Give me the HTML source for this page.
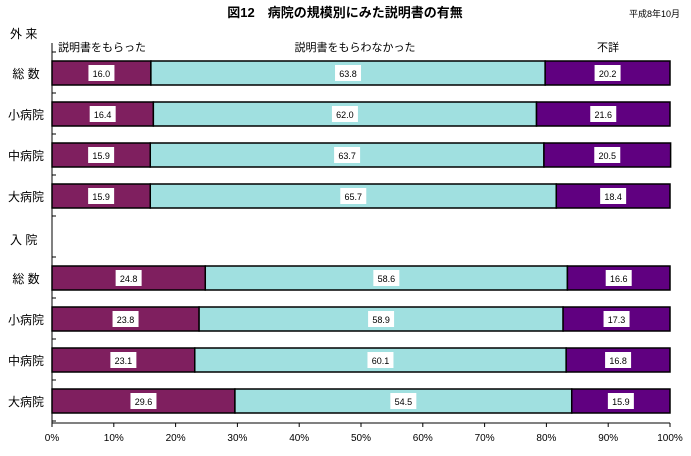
<!DOCTYPE html>
<html><head><meta charset="utf-8"><style>
body{margin:0;background:#fff;}
svg text{font-family:"Liberation Sans","Noto Sans CJK JP",sans-serif;}
</style></head><body>
<svg id="chart" width="691" height="451" viewBox="0 0 691 451" xmlns="http://www.w3.org/2000/svg">
<text x="345" y="17" font-size="13" font-weight="bold" text-anchor="middle">図12　病院の規模別にみた説明書の有無</text>
<text x="680" y="17" font-size="9" text-anchor="end">平成8年10月</text>
<text x="10" y="38" font-size="12">外 来</text>
<text x="10" y="244" font-size="12">入 院</text>
<text x="58" y="51" font-size="11">説明書をもらった</text>
<text x="355" y="51" font-size="11" text-anchor="middle">説明書をもらわなかった</text>
<text x="608" y="51" font-size="11" text-anchor="middle">不詳</text>
<g id="bars"></g>
<g id="axes"></g>
</svg>
<script>
const categories=["総 数","小病院","中病院","大病院","総 数","小病院","中病院","大病院"];
const rowIndex=[0,1,2,3,5,6,7,8];
const received=[16.0,16.4,15.9,15.9,24.8,23.8,23.1,29.6];
const notReceived=[63.8,62.0,63.7,65.7,58.6,58.9,60.1,54.5];
const unknown=[20.2,21.6,20.5,18.4,16.6,17.3,16.8,15.9];
const xTicks=[0,10,20,30,40,50,60,70,80,90,100];
const NS="http://www.w3.org/2000/svg";
const x0=52,x1=670;
const xs=v=>x0+(x1-x0)*v/100;
const ys=r=>61+41*r;
const bh=24;
const colors=["#7f1f5f","#a0e0e0","#600080"];
const segNames=["received","not-received","unknown"];
const bars=document.getElementById("bars"),axes=document.getElementById("axes");
function mk(tag,attrs,parent){const e=document.createElementNS(NS,tag);for(const k in attrs)e.setAttribute(k,attrs[k]);parent.appendChild(e);return e;}
categories.forEach((c,i)=>{
  const y=ys(rowIndex[i]);
  const lab=mk("text",{x:26,y:y+bh/2+5,"font-size":12,"text-anchor":"middle"},bars);
  
  
  lab.textContent=c;
  const vals=[received[i],notReceived[i],unknown[i]];
  let acc=0;
  vals.forEach((v,j)=>{
    const xa=xs(acc),xb=xs(acc+v);
    const r=mk("rect",{x:xa,y:y,width:xb-xa,height:bh,fill:colors[j],stroke:"#000","stroke-width":1.5},bars);
    
    
    const cx=(xa+xb)/2;
    const b=mk("rect",{x:cx-13,y:y+4,width:26,height:16,fill:"#fff"},bars);
    
    
    const t=mk("text",{x:cx,y:y+16,"font-size":9,"text-anchor":"middle"},bars);
    
    
    t.textContent=v.toFixed(1);
    acc+=v;
  });
});
const ya=mk("line",{x1:x0,y1:43,x2:x0,y2:423,stroke:"#000","stroke-width":1},axes);


for(let k=0;k<10;k++){
  const ty=52+41*k;
  const tk=mk("line",{x1:x0,y1:ty,x2:x0+4,y2:ty,stroke:"#000"},axes);
  
  
}
const xa=mk("line",{x1:x0,y1:423,x2:x1,y2:423,stroke:"#000","stroke-width":1},axes);


xTicks.forEach(v=>{
  const tk=mk("line",{x1:xs(v),y1:423,x2:xs(v),y2:427,stroke:"#000"},axes);
  
  
  const t=mk("text",{x:xs(v),y:441,"font-size":10,"text-anchor":"middle"},axes);
  
  
  t.textContent=v+"%";
});
</script>
</body></html>
